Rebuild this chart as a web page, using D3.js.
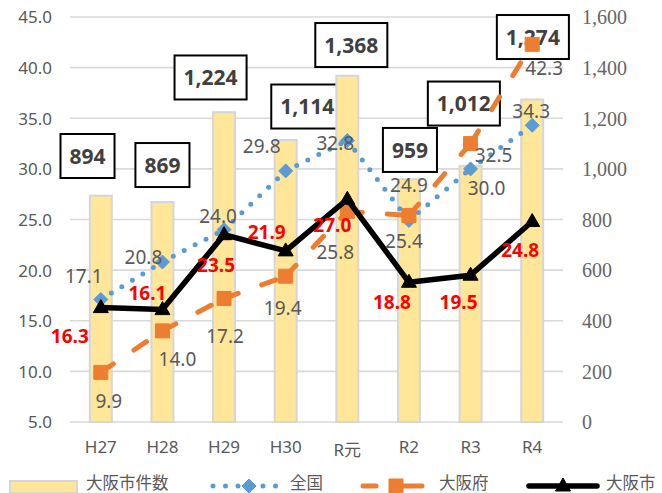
<!DOCTYPE html>
<html>
<head>
<meta charset="utf-8">
<script src="https://cdn.jsdelivr.net/npm/d3@7"></script>
<style>
html,body{margin:0;padding:0;background:#fff;}
svg{display:block;}
</style>
</head>
<body>
<svg id="chart" width="662" height="493"></svg>
<script>
// ---- data ----
const categories = ["H27","H28","H29","H30","R元","R2","R3","R4"];
const cityCases  = [894, 869, 1224, 1114, 1368, 959, 1012, 1274];   // 大阪市件数 (right axis)
const national   = [17.1, 20.8, 24.0, 29.8, 32.8, 24.9, 30.0, 34.3]; // 全国
const prefecture = [9.9, 14.0, 17.2, 19.4, 25.8, 25.4, 32.5, 42.3];  // 大阪府
const city       = [16.3, 16.1, 23.5, 21.9, 27.0, 18.8, 19.5, 24.8]; // 大阪市
const leftTicks  = [5, 10, 15, 20, 25, 30, 35, 40, 45];
const rightTicks = [0, 200, 400, 600, 800, 1000, 1200, 1400, 1600];
const legendNames = ["大阪市件数", "全国", "大阪府", "大阪市"];

// ---- label layout (offsets from marks, px) ----
const natOff  = [[-17,-23.5],[-19,-5],[-6,-13],[-24,-25],[-12,3],[0,-35.5],[16,19],[-1,-14]];
const prefOff = [[8,29],[15,28],[1,37.5],[-3,32],[-12,40.5],[-5,26],[23,11.5],[12,24]];
const cityOff = [[-31,28.5],[-15,-16.5],[-8,30],[-19,-19],[-15,26],[-17,20],[-12,27],[-12,28.5]];
const boxOff  = [[-13.3,-39.7],[0,-37],[-13.5,-34.7],[21.6,-33.5],[4,-30.7],[1,-29.3],[-6.7,-62.3],[0.7,-62.5]];

const SANS = "'Noto Sans','Noto Sans CJK JP',sans-serif";
const svg = d3.select("#chart");

const x = d3.scaleBand().domain(categories).range([70, 563]).padding(0);
const cx = c => x(c) + x.bandwidth() / 2;
const yL = d3.scaleLinear().domain([5, 45]).range([422, 17]);
const yR = d3.scaleLinear().domain([0, 1600]).range([422, 17]);

// gridlines
svg.append("g").selectAll("line").data(leftTicks).join("line")
  .attr("x1", 70).attr("x2", 563)
  .attr("y1", d => yL(d)).attr("y2", d => yL(d))
  .attr("stroke", "#D9D9D9").attr("stroke-width", 1.6);

// left axis
const leftAxis = d3.axisLeft(yL).tickValues(leftTicks).tickFormat(d3.format(".1f")).tickSize(0).tickPadding(0);
const gl = svg.append("g").attr("transform", "translate(52,0)").call(leftAxis);
gl.select(".domain").remove();
gl.selectAll("text").attr("font-family", SANS).attr("font-size", 17).attr("fill", "#595959").attr("dy", "0.35em");

// right axis
const rightAxis = d3.axisRight(yR).tickValues(rightTicks).tickFormat(d3.format(",")).tickSize(0).tickPadding(0);
const gr = svg.append("g").attr("transform", "translate(582,0)").call(rightAxis);
gr.select(".domain").remove();
gr.selectAll("text").attr("font-family", "'Liberation Serif',serif").attr("font-size", 20).attr("fill", "#666666").attr("dy", "0.34em");

// x axis
const xAxis = d3.axisBottom(x).tickSize(0).tickPadding(0);
const gx = svg.append("g").attr("transform", "translate(0,447)").call(xAxis);
gx.select(".domain").remove();
gx.selectAll("text").attr("font-family", SANS).attr("font-size", 17).attr("fill", "#595959").attr("dy", "0.35em")
  .attr("y", d => d === "R元" ? 3 : 0);

// bar value boxes (drawn beneath bars, as in the reference)
const boxG = svg.append("g");
categories.forEach((c, i) => {
  const bx = cx(c) + boxOff[i][0];
  const by = yR(cityCases[i]) + boxOff[i][1];
  const g = boxG.append("g");
  const rect = g.append("rect");
  const t = g.append("text").attr("x", bx).attr("y", by).attr("text-anchor", "middle")
    .attr("dy", "0.36em").attr("font-family", SANS).attr("font-size", 21).attr("font-weight", "bold")
    .attr("fill", "#404040").text(d3.format(",")(cityCases[i]));
  const w = t.node().getComputedTextLength() + 18;
  rect.attr("x", bx - w / 2).attr("y", by - 22).attr("width", w).attr("height", 44)
    .attr("fill", "#fff").attr("stroke", "#000").attr("stroke-width", 2);
});

// bars
const barW = 22;
svg.append("g").selectAll("rect").data(categories).join("rect")
  .attr("x", c => cx(c) - barW / 2)
  .attr("y", (c, i) => yR(cityCases[i]))
  .attr("width", barW)
  .attr("height", (c, i) => yR(0) - yR(cityCases[i]))
  .attr("fill", "#FFE699").attr("stroke", "#D6D6D6").attr("stroke-width", 2);

// line series helper: each segment drawn separately so dash pattern restarts at each point
function drawSeries(vals, style) {
  const g = svg.append("g");
  for (let i = 0; i < vals.length - 1; i++) {
    g.append("line")
      .attr("x1", cx(categories[i])).attr("y1", yL(vals[i]))
      .attr("x2", cx(categories[i + 1])).attr("y2", yL(vals[i + 1]))
      .attr("stroke", style.color).attr("stroke-width", style.width)
      .attr("stroke-linecap", style.cap).attr("stroke-dasharray", style.dash || null);
  }
  return g;
}
function marker(g, type, px, py, color) {
  let p;
  if (type === "diamond") p = `M${px},${py-7}L${px+7},${py}L${px},${py+7}L${px-7},${py}Z`;
  else if (type === "square") p = `M${px-7},${py-7}h14v14h-14Z`;
  else p = `M${px},${py-8}L${px+7.5},${py+5}L${px-7.5},${py+5}Z`;
  g.append("path").attr("d", p).attr("fill", color).attr("stroke", color).attr("stroke-width", 1);
}

const BLUE = "#5B9BD5", ORANGE = "#ED7D31", BLACK = "#000000";
const gN = drawSeries(national, {color: BLUE, width: 5, cap: "round", dash: "0 12.3"});
national.forEach((v, i) => marker(gN, "diamond", cx(categories[i]), yL(v), BLUE));
const gP = drawSeries(prefecture, {color: ORANGE, width: 5, cap: "round", dash: "15 25"});
prefecture.forEach((v, i) => marker(gP, "square", cx(categories[i]), yL(v), ORANGE));
const gC = svg.append("g");
gC.append("path").datum(city)
  .attr("d", d3.line().x((v, i) => cx(categories[i])).y(v => yL(v)))
  .attr("fill", "none").attr("stroke", BLACK).attr("stroke-width", 5.5).attr("stroke-linejoin", "round");
city.forEach((v, i) => marker(gC, "triangle", cx(categories[i]), yL(v), BLACK));

// line labels
function labels(vals, off, fill, weight, size) {
  svg.append("g").selectAll("text").data(vals).join("text")
    .attr("x", (v, i) => cx(categories[i]) + off[i][0])
    .attr("y", (v, i) => yL(v) + off[i][1])
    .attr("dy", "0.36em").attr("text-anchor", "middle")
    .attr("font-family", SANS).attr("font-size", size).attr("font-weight", weight)
    .attr("fill", fill).text(v => d3.format(".1f")(v));
}
labels(national, natOff, "#595959", "normal", 19);
labels(prefecture, prefOff, "#595959", "normal", 19);
labels(city, cityOff, "#FF0000", "bold", 19);

// legend
const LY = 486;
const lg = svg.append("g");
lg.append("rect").attr("x", 10).attr("y", 481).attr("width", 67).attr("height", 12)
  .attr("fill", "#FFE699").attr("stroke", "#D6D6D6").attr("stroke-width", 2);
lg.append("line").attr("x1", 213).attr("x2", 278).attr("y1", LY).attr("y2", LY)
  .attr("stroke", BLUE).attr("stroke-width", 5).attr("stroke-linecap", "round").attr("stroke-dasharray", "0 12.5");
marker(lg, "diamond", 249, LY, BLUE);
lg.append("line").attr("x1", 363).attr("x2", 376).attr("y1", LY).attr("y2", LY)
  .attr("stroke", ORANGE).attr("stroke-width", 5).attr("stroke-linecap", "round");
lg.append("line").attr("x1", 402).attr("x2", 422).attr("y1", LY).attr("y2", LY)
  .attr("stroke", ORANGE).attr("stroke-width", 5).attr("stroke-linecap", "round");
marker(lg, "square", 396, LY, ORANGE);
lg.append("line").attr("x1", 529).attr("x2", 597).attr("y1", LY).attr("y2", LY)
  .attr("stroke", BLACK).attr("stroke-width", 5.5).attr("stroke-linecap", "round");
marker(lg, "triangle", 563, LY, BLACK);
const legTextX = [86, 290, 439, 606];
legendNames.forEach((n, i) => {
  lg.append("text").attr("x", legTextX[i]).attr("y", 483).attr("dy", "0.36em")
    .attr("font-family", "'Noto Sans CJK JP',sans-serif").attr("font-size", 16.5)
    .attr("fill", "#595959").text(n);
});
</script>
</body>
</html>
